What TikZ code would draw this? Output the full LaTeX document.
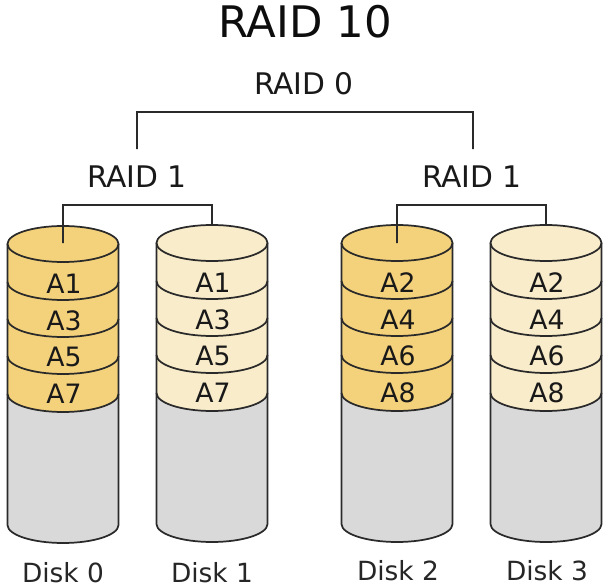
\documentclass[tikz,border=0pt]{standalone}
\usepackage{fontspec}
\setmainfont{DejaVu Sans}
\definecolor{stripedark}{HTML}{F4D27C}
\definecolor{stripelight}{HTML}{F9ECCB}
\definecolor{diskgray}{HTML}{D9D9D9}
\definecolor{inkline}{HTML}{2A2A2A}
\tikzset{
  outline/.style={draw=inkline, line width=1.3pt},
  wire/.style={draw=inkline, line width=1.2pt},
  title/.style={inner sep=0pt, font=\fontsize{32.6}{33}\selectfont, text=black!95},
  raid/.style={inner sep=0pt, font=\fontsize{22.3}{23}\selectfont, text=black!90},
  block/.style={inner sep=0pt, font=\fontsize{20}{21}\selectfont, text=black!90},
  disk/.style={inner sep=0pt, font=\fontsize{19.8}{21}\selectfont, text=black!85}
}
\begin{document}
\begin{tikzpicture}[x=1pt, y=1pt, scale=0.75]
    \useasboundingbox (0, 0) rectangle (608, -588);

    % disks: centre, top, stripe colour, first label, index
    \foreach \cx/\ty/\col/\la/\lb/\lc/\ld/\num in {
        63/-244/stripedark/A1/A3/A5/A7/0,
        212/-243/stripelight/A1/A3/A5/A7/1,
        397/-243/stripedark/A2/A4/A6/A8/2,
        546/-243/stripelight/A2/A4/A6/A8/3} {
      \fill[diskgray] (\cx-55.5, \ty) -- (\cx-55.5, \ty-281) arc (180:360:55.5pt and 18pt) -- (\cx+55.5, \ty) -- cycle;
      \fill[\col] (\cx-55.5, \ty) -- (\cx-55.5, \ty-150) arc (180:360:55.5pt and 18pt) -- (\cx+55.5, \ty) arc (0:180:55.5pt and 18pt) -- cycle;
      \draw[outline] (\cx-55.5, \ty) -- (\cx-55.5, \ty-281) arc (180:360:55.5pt and 18pt) -- (\cx+55.5, \ty);
      \draw[outline] (\cx, \ty) ellipse (55.5pt and 18pt);
      \foreach \k in {38, 75, 112, 150} {
        \draw[outline] (\cx-55.5, \ty-\k) arc (180:360:55.5pt and 18pt);
      }
      \node[block] (a\num) at (\cx+1, \ty-40) {\la};
      \node[block] (b\num) at (\cx+1, \ty-77) {\lb};
      \node[block] (c\num) at (\cx+1, \ty-113) {\lc};
      \node[block] (d\num) at (\cx+1, \ty-150) {\ld};
    }

    \node[disk] (disk0) at (63, -573) {Disk 0};
    \node[disk] (disk1) at (212, -573) {Disk 1};
    \node[disk] (disk2) at (398, -571) {Disk 2};
    \node[disk] (disk3) at (547, -571) {Disk 3};

    \node[title] (raidten) at (305, -22) {RAID 10};
    \node[raid] (raidzero) at (304, -84) {RAID 0};
    \node[raid] (left) at (137, -177) {RAID 1};
    \node[raid] (right) at (472, -177) {RAID 1};

    \coordinate (leftup) at (137, -149);
    \coordinate (rightup) at (473, -149);
    \coordinate (end0) at (63, -243);
    \coordinate (end1) at (212, -225);
    \coordinate (end2) at (397, -243);
    \coordinate (end3) at (546, -225);

    \draw[wire] (leftup) -- (137, -112) -- (473, -112) -- (rightup);
    \draw[wire] (end0) -- (63, -205) -- (212, -205) -- (end1);
    \draw[wire] (end2) -- (397, -205) -- (546, -205) -- (end3);
  \end{tikzpicture}
\end{document}
